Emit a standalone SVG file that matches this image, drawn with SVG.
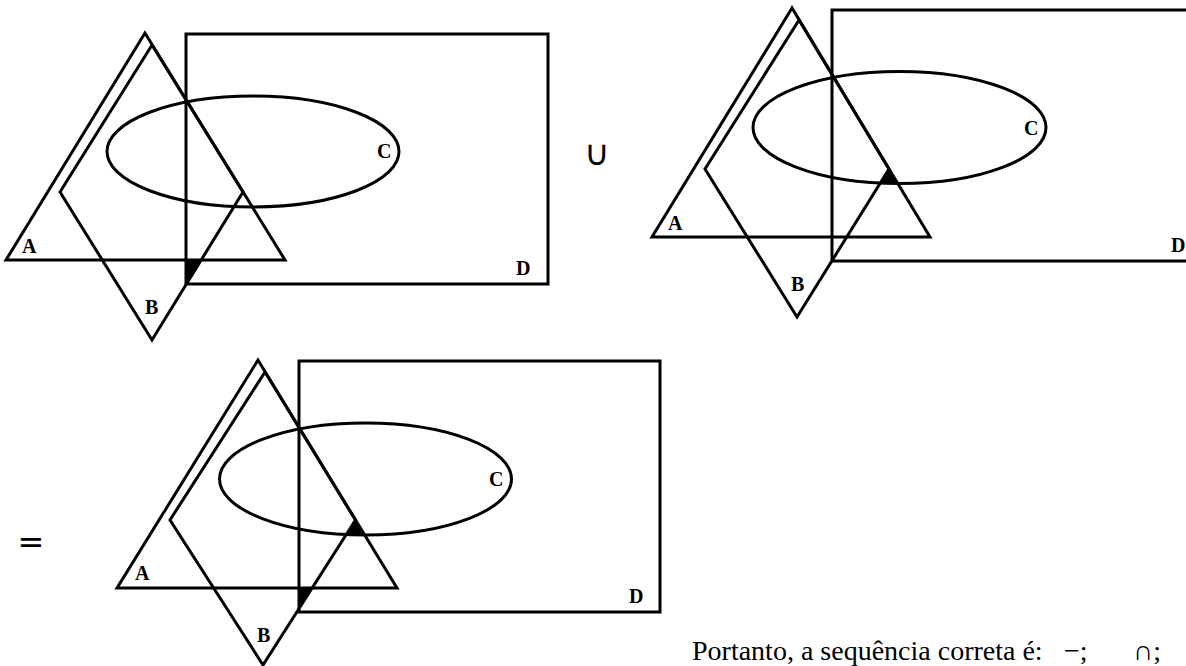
<svg xmlns="http://www.w3.org/2000/svg" width="1186" height="666" viewBox="0 0 1186 666">
<style>
.s{fill:none;stroke:#000;stroke-width:3;stroke-linejoin:miter}
.f{fill:#000;stroke:none}
.l{font-family:"Liberation Serif","Times New Roman",serif;font-weight:bold;font-size:20px;fill:#000}
.op{font-family:"DejaVu Sans",sans-serif;fill:#000}
.t{font-family:"Liberation Serif","Times New Roman",serif;font-size:28px;fill:#000}
</style>
<rect width="1186" height="666" fill="#fff"/>
<g id="diagram1">
  <polygon class="f" points="186,260 200.5,260 186,283.5"/>
  <polygon id="d1-A" class="s" points="145,33 6,260 285,260"/>
  <polygon id="d1-B" class="s" points="152,45 243,192 152,340 60,192"/>
  <rect id="d1-D" class="s" x="186" y="34" width="362" height="250"/>
  <ellipse id="d1-C" class="s" cx="253" cy="151.5" rx="146" ry="55.5"/>
  <text class="l" x="22" y="253">A</text>
  <text class="l" x="145" y="314">B</text>
  <text class="l" x="377" y="158">C</text>
  <text class="l" x="516" y="275">D</text>
</g>
<text class="op" x="597" y="165" font-size="35" text-anchor="middle">∪</text>
<g id="diagram2">
  <polygon class="f" points="889,169 880.2,183.5 897.6,183.5"/>
  <polygon id="d2-A" class="s" points="792,8 652,237 930,237"/>
  <polygon id="d2-B" class="s" points="799,20 889,169 797,317 705,169"/>
  <rect id="d2-D" class="s" x="832" y="10" width="400" height="251"/>
  <ellipse id="d2-C" class="s" cx="899.5" cy="127.5" rx="146.5" ry="56"/>
  <text class="l" x="668" y="230">A</text>
  <text class="l" x="791" y="291">B</text>
  <text class="l" x="1024" y="135">C</text>
  <text class="l" x="1171" y="252">D</text>
</g>
<text class="op" x="31" y="553" font-size="32" text-anchor="middle">=</text>
<g id="diagram3">
  <polygon class="f" points="299,588 312.4,588 299,609"/>
  <polygon class="f" points="355.5,520 346.2,535 364.6,535"/>
  <polygon id="d3-A" class="s" points="258,360 117,588 397,588"/>
  <polygon id="d3-B" class="s" points="265,372 355.5,520 263,665 170,520"/>
  <rect id="d3-D" class="s" x="299" y="361" width="361" height="251"/>
  <ellipse id="d3-C" class="s" cx="365.5" cy="479" rx="146" ry="56"/>
  <text class="l" x="135" y="580">A</text>
  <text class="l" x="257" y="642">B</text>
  <text class="l" x="489" y="486">C</text>
  <text class="l" x="629" y="603">D</text>
</g>
<text class="t" y="660"><tspan x="692">Portanto, a sequência correta é:</tspan><tspan x="1064">−;</tspan><tspan x="1133">∩;</tspan></text>
</svg>
